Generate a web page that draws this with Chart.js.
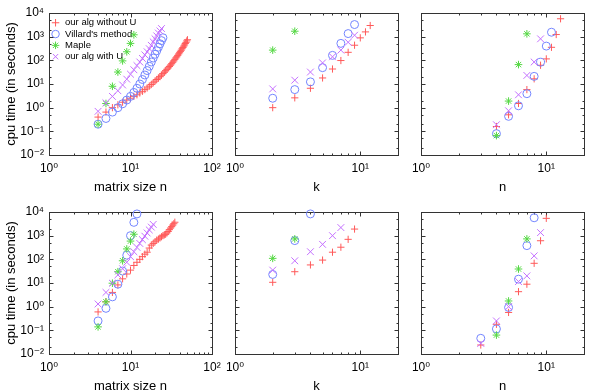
<!DOCTYPE html>
<html><head><meta charset="utf-8">
<script src="https://cdn.jsdelivr.net/npm/chart.js@4.4.0/dist/chart.umd.min.js"></script>
<style>
html,body{margin:0;padding:0;background:#fff;}
#wrap{position:relative;width:598px;height:392px;overflow:hidden;background:#fff;}
#wrap canvas{position:absolute;left:0;top:0;}
</style></head>
<body><div id="wrap"></div>
<script>
// ---------- data ----------
const seriesNames = ['our alg without U', "Villard's method", 'Maple', 'our alg with U'];
const yTickValues = [0.01, 0.1, 1, 10, 100, 1000, 10000];
const xTicksMatrix = [1, 10, 100];
const xTicksSmall = [1, 10];
const yTitle = 'cpu time (in seconds)';
const xTitles = ['matrix size n', 'k', 'n'];

// top row, panel 1 (matrix size n)
const t1RedN = [4,5,6,7,8,9,10,11,12,13,14,15,16,17,18,19,20,21,22,23,24,25,26,27,28,29,30,31,32,33,34,35,36,37,38,39,40,41,42,43,44,45,46,47,48,49,50];
const t1RedV = [0.40,0.65,1.0,1.32,1.7,2.1,2.5,3.0,3.5,4.2,4.9,5.8,6.8,8.1,9.5,11.2,13.2,15.5,17.8,20.4,23.7,27.5,31.6,36.3,41.7,47.9,55,63,72,83,95,110,126,141,162,186,209,240,269,309,347,398,447,513,575,661,741];
const t1BlueN = [4,5,6,7,8,9,10,11,12,13,14,15,16,17,18,19,20,21,22,23,24,25];
const t1BlueV = [0.2,0.35,0.65,1.0,1.46,2.1,3.0,4.4,6.6,10,15.5,24,37,56,85,125,180,255,360,500,680,900];
const t1GreenN = [4,5,6,7,8,9,10,11];
const t1GreenV = [0.2,1.5,8,32,95,230,520,1200];
const t1PurpleN = [4,5,6,7,8,9,10,11,12,13,14,15,16,17,18,19,20,21,22,23,24];
const t1PurpleV = [0.7,1.6,3.0,5.2,9.1,16,26,40,60,85,120,170,230,310,430,600,810,1080,1420,1750,2200];

// top row, panel 2 (k)
const t2RedK = [2,3,4,5,6,7,8,9,10,11,12];
const t2RedV = [1.0,2.6,6.6,18,43,98,218,435,890,1590,2960];
const t2BlueK = [2,3,4,5,6,7,8,9];
const t2BlueV = [2.5,5.8,12.3,49,162,520,1350,3250];
const t2GreenK = [2,3];
const t2GreenV = [270,1700];
const t2PurpleK = [2,3,4,5,6,7,8,9];
const t2PurpleV = [6.2,14.5,32,78,141,270,580,1150];

// top row, panel 3 (n)
const t3RedN = [4,5,6,7,8,9,10,11,12,13];
const t3RedV = [0.16,0.5,1.5,5.8,16.5,62,115,355,1230,5700];
const t3BlueN = [4,5,6,7,8,9,10,11];
const t3BlueV = [0.08,0.43,1.2,3.9,21,83,400,1540];
const t3GreenN = [4,5,6,7];
const t3GreenV = [0.066,1.9,66,1320];
const t3PurpleN = [4,5,6,7,8,9];
const t3PurpleV = [0.19,0.74,3.5,23,85,810];

// bottom row, panel 1 (matrix size n)
const b1RedN = [4,5,6,7,8,9,10,11,12,13,14,15,16,17,18,19,20,21,22,23,24,25,26,27,28,29,30,31,32,33,34,35];
const b1RedV = [0.6,1.6,4.0,8.3,15,24,35,55,75,100,130,165,200,300,400,470,550,650,720,800,900,1000,1080,1150,1300,1500,1800,2100,2400,2800,3200,3700];
const b1BlueN = [4,5,6,7,8,9,10,11,12];
const b1BlueV = [0.25,0.85,2.6,8.9,32,150,1000,3650,8300];
const b1GreenN = [4,5,6,7,8,9,10,11];
const b1GreenV = [0.14,1.6,9.8,30,87,275,590,1150];
const b1PurpleN = [4,5,6,7,8,9,10,11,12,13,14,15,16,17,18,19];
const b1PurpleV = [1.3,4.0,9.8,22,40,75,130,210,320,470,680,950,1300,1750,2300,3000];

// bottom row, panel 2 (k)
const b2RedK = [2,3,4,5,6,7,8,9];
const b2RedV = [10.7,30,58,93,200,325,700,1900];
const b2BlueK = [2,3,4];
const b2BlueV = [23,620,8300];
const b2GreenK = [2,3];
const b2GreenV = [110,730];
const b2PurpleK = [2,3,4,5,6,7];
const b2PurpleV = [35,87,210,430,1000,2200];

// bottom row, panel 3 (n)
const b3RedN = [3,4,5,6,7,8,9,10];
const b3RedV = [0.024,0.18,0.57,4.3,8.9,68,610,5400];
const b3BlueN = [3,4,5,6,7,8];
const b3BlueV = [0.046,0.115,0.93,14.5,380,5700];
const b3GreenN = [4,5,6,7];
const b3GreenV = [0.063,1.74,39,730];
const b3PurpleN = [3,4,5,6,7,8,9];
const b3PurpleV = [0.028,0.25,1.0,11.5,20,140,1350];

// ---------- styling ----------
const FONT = "'Liberation Sans', Arial, 'DejaVu Sans', sans-serif";
const STYLES = [
  {style:'cross',    r:3.6, color:'#ff5a5a', order:4},
  {style:'circle',   r:4.0, color:'#7385ff', order:3},
  {style:'star',     r:3.8, color:'#55d844', order:2},
  {style:'crossRot', r:4.8, color:'#c470ff', order:1}
];
const SUP = {'-':'\u207B','0':'\u2070','1':'\u00B9','2':'\u00B2','3':'\u00B3','4':'\u2074'};
function powLabel(v){
  const e = Math.round(Math.log10(v));
  return '10' + String(e).split('').map(c => SUP[c]).join('');
}
function ds(xs, ys, k){
  const s = STYLES[k];
  return {
    label: seriesNames[k],
    data: xs.map((x,i) => ({x:x, y:ys[i]})),
    showLine:false, pointStyle:s.style, pointRadius:s.r, pointHoverRadius:s.r,
    borderColor:s.color, pointBorderColor:s.color,
    backgroundColor:'rgba(0,0,0,0)', pointBackgroundColor:'rgba(0,0,0,0)',
    borderWidth:1, pointBorderWidth:1, order:s.order, clip:10
  };
}

const frameTicks = {
  id:'frameTicks',
  beforeDatasetsDraw(chart){
    const {ctx, chartArea:a} = chart;
    const xs = chart.scales.x, ys = chart.scales.y;
    ctx.save();
    ctx.strokeStyle = '#333';
    ctx.lineWidth = 1;
    ctx.beginPath();
    const L = a.left + 0.5, R = a.right + 0.5, T = a.top + 0.5, B = a.bottom + 0.5;
    for (let d = Math.floor(Math.log10(xs.min)); d <= Math.ceil(Math.log10(xs.max)); d++) {
      for (let m = 1; m <= 9; m++) {
        const v = m * Math.pow(10, d);
        if (v < xs.min * 0.999 || v > xs.max * 1.001) continue;
        const p = Math.round(xs.getPixelForValue(v)) + 0.5;
        const len = m === 1 ? 4 : 2;
        ctx.moveTo(p, B); ctx.lineTo(p, B - len);
        ctx.moveTo(p, T); ctx.lineTo(p, T + len);
      }
    }
    for (let d = Math.floor(Math.log10(ys.min)); d <= Math.ceil(Math.log10(ys.max)); d++) {
      for (const m of [1,2,5]) {
        const v = m * Math.pow(10, d);
        if (v < ys.min * 0.999 || v > ys.max * 1.001) continue;
        const p = Math.round(ys.getPixelForValue(v)) + 0.5;
        const len = m === 1 ? 4 : 2;
        ctx.moveTo(L, p); ctx.lineTo(L + len, p);
        ctx.moveTo(R, p); ctx.lineTo(R - len, p);
      }
    }
    ctx.stroke();
    ctx.strokeRect(L, T, R - L, B - T);
    ctx.restore();
  }
};

function panel(area, xMax, xTicks, xTitle, showY, datasets, showLegend){
  const cv = document.createElement('canvas');
  cv.width = 598; cv.height = 392;
  document.getElementById('wrap').appendChild(cv);
  const Wy = showY ? area.l - 4 : 0;
  const Hx = 36;
  new Chart(cv.getContext('2d'), {
    type:'scatter',
    data:{datasets:datasets},
    plugins:[frameTicks],
    options:{
      responsive:false, animation:false, events:[],
      layout:{padding:{left:area.l - Wy, top:area.t, right:598 - area.r, bottom:392 - area.b - Hx}},
      plugins:{
        tooltip:{enabled:false},
        legend:{
          display:showLegend, position:'chartArea', align:'start',
          title:{display:true, text:'', padding:0, font:{size:16.2, lineHeight:1}},
          labels:{
            usePointStyle:true, boxWidth:10, boxHeight:5.3, padding:1.8,
            color:'#000', font:{family:FONT, size:9.5},
            sort:(a,b) => a.datasetIndex - b.datasetIndex
          }
        }
      },
      scales:{
        x:{
          type:'logarithmic', position:'bottom', min:1, max:xMax,
          afterBuildTicks:(s) => { s.ticks = xTicks.map(v => ({value:v})); },
          afterFit:(s) => { s.height = Hx; s.paddingLeft = 0; s.paddingRight = 0; },
          grid:{display:false, drawTicks:false}, border:{display:false},
          ticks:{autoSkip:false, maxRotation:0, minRotation:0, padding:6, color:'#000',
                 font:{family:FONT, size:12}, callback:(v) => powLabel(v)},
          title:{display:true, text:xTitle, color:'#000', padding:-2.5, font:{family:FONT, size:13, lineHeight:1}}
        },
        y:{
          type:'logarithmic', position:'left', min:0.01, max:10000,
          afterBuildTicks:(s) => { s.ticks = yTickValues.map(v => ({value:v})); },
          afterFit:(s) => { s.width = Wy; s.paddingTop = 0; s.paddingBottom = 0; },
          grid:{display:false, drawTicks:false}, border:{display:false},
          ticks:{display:showY, autoSkip:false, padding:5, color:'#000',
                 font:{family:FONT, size:12}, callback:(v) => powLabel(v)},
          title:{display:showY, text:yTitle, color:'#000', padding:0, font:{family:FONT, size:13, lineHeight:1.2}}
        }
      }
    }
  });
}

const TOP = {t:13, b:155}, BOT = {t:212, b:354};
const COLS = [{l:49, r:212}, {l:235, r:398}, {l:421, r:584}];
function A(row, col){ return {l:COLS[col].l, r:COLS[col].r, t:row.t, b:row.b}; }

panel(A(TOP,0), 100, xTicksMatrix, xTitles[0], true, [
  ds(t1RedN,t1RedV,0), ds(t1BlueN,t1BlueV,1), ds(t1GreenN,t1GreenV,2), ds(t1PurpleN,t1PurpleV,3)], true);
panel(A(TOP,1), 20, xTicksSmall, xTitles[1], false, [
  ds(t2RedK,t2RedV,0), ds(t2BlueK,t2BlueV,1), ds(t2GreenK,t2GreenV,2), ds(t2PurpleK,t2PurpleV,3)], false);
panel(A(TOP,2), 20, xTicksSmall, xTitles[2], false, [
  ds(t3RedN,t3RedV,0), ds(t3BlueN,t3BlueV,1), ds(t3GreenN,t3GreenV,2), ds(t3PurpleN,t3PurpleV,3)], false);
panel(A(BOT,0), 100, xTicksMatrix, xTitles[0], true, [
  ds(b1RedN,b1RedV,0), ds(b1BlueN,b1BlueV,1), ds(b1GreenN,b1GreenV,2), ds(b1PurpleN,b1PurpleV,3)], false);
panel(A(BOT,1), 20, xTicksSmall, xTitles[1], false, [
  ds(b2RedK,b2RedV,0), ds(b2BlueK,b2BlueV,1), ds(b2GreenK,b2GreenV,2), ds(b2PurpleK,b2PurpleV,3)], false);
panel(A(BOT,2), 20, xTicksSmall, xTitles[2], false, [
  ds(b3RedN,b3RedV,0), ds(b3BlueN,b3BlueV,1), ds(b3GreenN,b3GreenV,2), ds(b3PurpleN,b3PurpleV,3)], false);
</script>
</body></html>
